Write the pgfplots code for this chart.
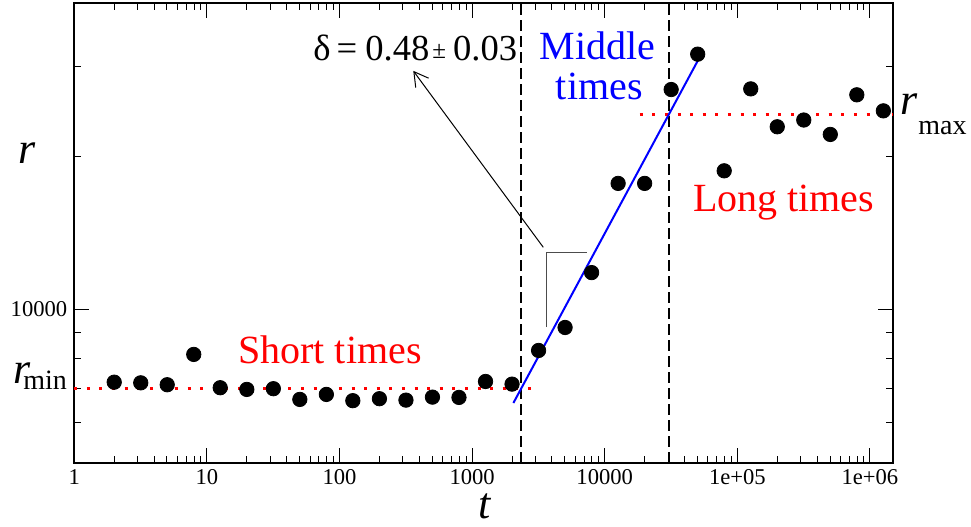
\documentclass[border=0pt]{standalone}
\usepackage{fontspec}
\setmainfont{Liberation Serif}
\newfontfamily\tms{Liberation Serif}
\usepackage{pgfplots}
\pgfplotsset{compat=1.18}
\usetikzlibrary{arrows.meta}

\begin{document}
\begin{tikzpicture}
\begin{axis}[
  scale only axis, width=409.5pt, height=229.7pt,
  xmode=log, ymode=log,
  xmin=1, xmax=1.5e6, ymin=5000, ymax=40000,
  axis line style={line width=1pt},
  tick style={line width=0.5pt, black},
  major tick length=7.5pt, minor tick length=3.5pt,
  tick align=inside,
  xtick={1,10,100,1000,10000,100000,1000000},
  xticklabels={1,10,100,1000,10000,1e+05,1e+06},
  minor xtick={2,3,4,5,6,7,8,9,20,30,40,50,60,70,80,90,
    200,300,400,500,600,700,800,900,2000,3000,4000,5000,6000,7000,8000,9000,
    20000,30000,40000,50000,60000,70000,80000,90000,
    200000,300000,400000,500000,600000,700000,800000,900000},
  ytick={10000}, yticklabels={10000},
  minor ytick={6000,7000,8000,9000,20000,30000},
  tick label style={font=\tms\fontsize{11.3}{13}\selectfont},
  /pgf/number format/assume math mode=true,
  clip=false,
]
% region boundaries
\addplot[black, line width=1pt, dash pattern=on 5.5pt off 2.5pt] coordinates {(2340,5000) (2340,40000)};
\addplot[black, line width=1pt, dash pattern=on 5.5pt off 2.5pt] coordinates {(30500,5000) (30500,40000)};

% measured r(t)
\addplot[only marks, mark=*, mark size=3.6pt, black] coordinates {
  (2,7198) (3.17,7178) (5.02,7115) (7.96,8161) (12.6,7020)
  (20,6966) (31.7,6988) (50.2,6658) (79.6,6810) (126,6620)
  (200,6679) (317,6636) (502,6727) (796,6718) (1262,7221)
  (2000,7135) (3170,8309) (5024,9220) (7962,11820) (12619,17700)
  (20000,17700) (31698,27070) (50238,31770) (79621,18740) (126191,27150)
  (200000,22870) (316979,23580) (502377,22090) (796214,26430) (1261915,24580)
};

% plateaus
\addplot[red, line width=1.5pt, dash pattern=on 1.5pt off 4.8pt] coordinates {(1,6990) (2800,6990)};
\addplot[red, line width=1.5pt, dash pattern=on 1.5pt off 4.8pt] coordinates {(18360,24220) (1.5e6,24220)};

% power-law fit
\addplot[blue, line width=1pt] coordinates {(2048,6551) (50880,31010)};

% slope mark and arrow
\draw[black!70, line width=0.5pt] (axis cs:3652,9232) -- (axis cs:3652,12940) -- (axis cs:7393,12940);
\draw[line width=0.5pt, -{Straight Barb[length=7pt,width=8pt]}] (axis cs:3443,13250) -- (axis cs:360,29460);

\node[anchor=base west, inner sep=0, font=\tms\fontsize{18.3}{20}\selectfont] at (rel axis cs:0.2915,0.8751)
  {δ\kern3pt=\kern4pt0.48\kern1.5pt\raisebox{1pt}{\fontsize{12.5}{12.5}\selectfont ±}\kern3.5pt0.03};
\node[anchor=base, inner sep=0, red, font=\tms\fontsize{20}{22}\selectfont] at (rel axis cs:0.3122,0.2164) {Short times};
\node[anchor=base, inner sep=0, blue, font=\tms\fontsize{20}{22}\selectfont] at (rel axis cs:0.6388,0.8767) {Middle};
\node[anchor=base, inner sep=0, blue, font=\tms\fontsize{20}{22}\selectfont] at (rel axis cs:0.6410,0.7896) {times};
\node[anchor=base, inner sep=0, red, font=\tms\fontsize{20}{22}\selectfont] at (rel axis cs:0.8660,0.5464) {Long times};

% axis labels
\node[inner sep=0, font=\tms\fontsize{22}{22}\selectfont\itshape] at (rel axis cs:-0.0577,0.6741) {r};
\node[inner sep=0, font=\tms\fontsize{22}{22}\selectfont\itshape] at (rel axis cs:-0.0632,0.1953) {r};
\node[anchor=base west, inner sep=0, font=\tms\fontsize{14}{14}\selectfont] at (rel axis cs:-0.0626,0.1583) {min};
\node[inner sep=0, font=\tms\fontsize{22}{22}\selectfont\itshape] at (rel axis cs:1.0192,0.7808) {r};
\node[anchor=base west, inner sep=0, font=\tms\fontsize{14}{14}\selectfont] at (rel axis cs:1.0301,0.7133) {max};
\node[anchor=base, inner sep=0, font=\tms\fontsize{22}{22}\selectfont\itshape] at (rel axis cs:0.5015,-0.1225) {t};
\end{axis}
\pgfresetboundingbox
\path ([shift={(-37.15pt,-32.15pt)}]current axis.south west) rectangle ([shift={(38.85pt,1.65pt)}]current axis.north east);
\end{tikzpicture}
\end{document}
